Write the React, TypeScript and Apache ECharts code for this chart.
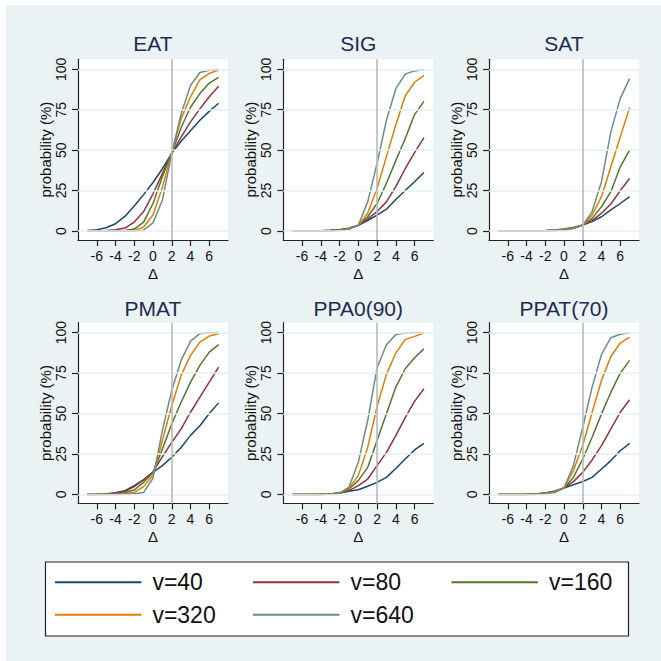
import React, { useEffect, useRef } from "react";
import * as echarts from "echarts";

// x values (Δ) shared by every curve
const X_VALUES = [-7, -6, -5, -4, -3, -2, -1, 0, 1, 2, 3, 4, 5, 6, 7];
const SERIES_NAMES = ["v=40", "v=80", "v=160", "v=320", "v=640"];
const SERIES_COLORS = ["#1a476f", "#90353b", "#55752f", "#e37e00", "#6e8e84"];
const PANEL_TITLES = ["EAT", "SIG", "SAT", "PMAT", "PPA0(90)", "PPAT(70)"];
const X_TICKS = [-6, -4, -2, 0, 2, 4, 6];
const Y_TICKS = [0, 25, 50, 75, 100];
const REF_X = 2;

// probability (%) per panel, rows: v=40, v=80, v=160, v=320, v=640
const EAT = [
  [0.3, 0.8, 2, 4.5, 9, 15.5, 22.5, 30, 38.5, 48, 55.5, 62, 68.5, 74, 79],
  [0, 0, 0.3, 0.7, 1.8, 5.5, 12, 23, 35.5, 48, 58, 67.5, 75.5, 83, 89.5],
  [0, 0, 0, 0, 0.3, 1.2, 5.5, 17, 33.5, 48, 64, 76.5, 85, 91.5, 95],
  [0, 0, 0, 0, 0, 0.2, 2.5, 10, 27, 48, 69.5, 83, 93.5, 97.5, 99.4],
  [0, 0, 0, 0, 0, 0, 0.5, 5, 19, 48, 72.5, 90, 98, 99.4, 99.8],
];
const SIG = [
  [0, 0, 0, 0.2, 0.4, 0.8, 1.7, 3.5, 6.5, 9.8, 13.5, 19.5, 25, 30.5, 36.2],
  [0, 0, 0, 0.2, 0.4, 0.7, 1.6, 3.5, 7.5, 12, 18, 27.5, 38.5, 48.5, 57.8],
  [0, 0, 0, 0, 0.2, 0.5, 1.4, 3.5, 8.8, 17, 29.5, 43.5, 57, 72, 80.2],
  [0, 0, 0, 0, 0.1, 0.4, 1.3, 3.5, 11, 26.3, 46, 65.5, 83.5, 92, 96.3],
  [0, 0, 0, 0, 0, 0.3, 1.2, 3.5, 18, 41.8, 68.5, 88, 97, 99, 99.8],
];
const SAT = [
  [0, 0, 0, 0, 0.1, 0.3, 0.6, 1.2, 2.2, 3.8, 5.8, 8.8, 13, 17, 21.2],
  [0, 0, 0, 0, 0.1, 0.2, 0.5, 1, 2, 3.5, 6.4, 11, 16.7, 25, 32.5],
  [0, 0, 0, 0, 0, 0.1, 0.4, 0.9, 1.8, 3.5, 7.8, 15, 24.3, 39.7, 50],
  [0, 0, 0, 0, 0, 0.1, 0.3, 0.8, 1.7, 3.5, 9.9, 21.2, 39.7, 58.2, 76.3],
  [0, 0, 0, 0, 0, 0, 0.2, 0.6, 1.5, 3.5, 12, 30.5, 61.3, 82, 94.2],
];
const PMAT = [
  [0, 0.1, 0.3, 1, 2.3, 5.4, 9.1, 13.6, 17.8, 23, 29, 36.5, 42.5, 50, 56.6],
  [0, 0, 0.2, 0.7, 1.8, 4.8, 8.9, 14, 23.3, 32.2, 40.5, 50.8, 60.1, 69.4, 78.7],
  [0, 0, 0, 0.3, 1, 2.7, 7.4, 13.5, 28, 43.6, 57, 69.4, 79.8, 88, 92.6],
  [0, 0, 0, 0.1, 0.4, 1.2, 4.8, 12, 33.3, 55, 73.6, 86, 94.2, 97.9, 99.4],
  [0, 0, 0, 0, 0.1, 0.4, 1.2, 10, 39.5, 64.3, 82.9, 94.8, 99.4, 100, 100],
];
const PPA0 = [
  [0, 0, 0, 0.1, 0.3, 0.8, 1.9, 2.9, 5, 7.4, 10.5, 16, 21.9, 27.5, 31.6],
  [0, 0, 0, 0.1, 0.3, 0.8, 2.3, 5.4, 9.5, 17.8, 26, 36.4, 47.5, 57.5, 65.3],
  [0, 0, 0, 0, 0.2, 0.8, 3.3, 8.5, 16.7, 33.3, 49.8, 66.3, 77.7, 84.5, 90],
  [0, 0, 0, 0, 0.2, 0.8, 3.9, 11.6, 29, 54.3, 74.2, 87.4, 95.7, 97.7, 99.8],
  [0, 0, 0, 0, 0.2, 0.8, 4.5, 19.8, 45.7, 78.3, 92.6, 98.8, 99.8, 100, 100],
];
const PPAT = [
  [0, 0, 0, 0.1, 0.3, 0.8, 1.9, 4, 6, 8, 10.5, 15.7, 20.9, 27, 31.6],
  [0, 0, 0, 0.1, 0.3, 0.8, 1.9, 4, 7.9, 13.6, 21.3, 30.2, 40.5, 50.8, 58.5],
  [0, 0, 0, 0, 0.2, 0.7, 1.6, 4, 10.5, 21.9, 35.3, 49.8, 63.2, 75, 82.9],
  [0, 0, 0, 0, 0.1, 0.6, 1.5, 4, 14.7, 30.2, 50.8, 70.5, 85.3, 93.6, 97.3],
  [0, 0, 0, 0, 0.1, 0.5, 1.2, 4, 17.8, 41.5, 66.3, 86.6, 96.9, 99, 100],
];
const PANELS = [EAT, SIG, SAT, PMAT, PPA0, PPAT];
const LEGEND_COLUMNS = [["v=40", "v=320"], ["v=80", "v=640"], ["v=160"]];

const FONT = "'Liberation Sans', Arial, Helvetica, sans-serif";

export default function App() {
  const ref = useRef<HTMLDivElement>(null);

  useEffect(() => {
    if (!ref.current) return;
    const chart = echarts.init(ref.current, undefined, { renderer: "svg" });

    const colLeft = [78, 283.3, 489];
    const rowTop = [59.3, 322.7];
    const gw = 150;
    const gh = 180.7;

    const grids: any[] = [];
    const xAxes: any[] = [];
    const yAxes: any[] = [];
    const series: any[] = [];
    const titles: any[] = [];
    const axisColor = "#222";

    PANELS.forEach((panel, i) => {
      const c = i % 3;
      const r = Math.floor(i / 3);
      grids.push({
        left: colLeft[c],
        top: rowTop[r],
        width: gw,
        height: gh,
        show: true,
        backgroundColor: "#ffffff",
        borderWidth: 0,
      });
      titles.push({
        text: PANEL_TITLES[i],
        left: colLeft[c] + gw / 2,
        top: r === 0 ? 32.5 : 297.5,
        textAlign: "center",
        padding: 0,
        textStyle: { fontSize: 21, fontWeight: "normal", color: "#1c2b53", fontFamily: FONT },
      });
      xAxes.push({
        gridIndex: i,
        type: "value",
        min: -8,
        max: 8,
        interval: 2,
        axisLine: { show: true, onZero: false, lineStyle: { color: axisColor, width: 1.2 } },
        axisTick: { show: true, customValues: X_TICKS, length: 6, lineStyle: { color: axisColor, width: 1.2 } },
        axisLabel: { customValues: X_TICKS, fontSize: 14, color: "#111", margin: 9, fontFamily: FONT },
        splitLine: { show: false },
        name: "Δ",
        nameLocation: "middle",
        nameGap: 26,
        nameTextStyle: { fontSize: 15, color: "#111", fontFamily: FONT },
      });
      yAxes.push({
        gridIndex: i,
        type: "value",
        min: -5.57,
        max: 106.18,
        axisLine: { show: true, onZero: false, lineStyle: { color: axisColor, width: 1.2 } },
        axisTick: { show: true, customValues: Y_TICKS, length: 6, lineStyle: { color: axisColor, width: 1.2 } },
        axisLabel: { customValues: Y_TICKS, fontSize: 14, color: "#111", margin: 10, rotate: 90, fontFamily: FONT },
        splitLine: { show: false },
        name: "probability (%)",
        nameLocation: "middle",
        nameGap: 24,
        nameTextStyle: { fontSize: 15, color: "#111", fontFamily: FONT },
      });
      series.push({
        type: "line",
        data: [],
        xAxisIndex: i,
        yAxisIndex: i,
        z: 1,
        silent: true,
        markLine: {
          silent: true,
          symbol: ["none", "none"],
          label: { show: false },
          animation: false,
          data: [
            ...Y_TICKS.map((v) => ({ yAxis: v, lineStyle: { color: "#e6eff1", width: 1.6, type: "solid" } })),
            { xAxis: REF_X, lineStyle: { color: "#b9b9b9", width: 1.6, type: "solid" } },
          ],
        },
      });
      panel.forEach((vals, k) => {
        series.push({
          type: "line",
          name: SERIES_NAMES[k],
          data: X_VALUES.map((x, j) => [x, vals[j]]),
          xAxisIndex: i,
          yAxisIndex: i,
          showSymbol: false,
          symbol: "none",
          silent: true,
          z: 3,
          lineStyle: { color: SERIES_COLORS[k], width: 1.5 },
          itemStyle: { color: SERIES_COLORS[k] },
        });
      });
    });

    const legendLefts = [54.9, 253, 451.5];
    const legends = LEGEND_COLUMNS.map((names, c) => ({
      orient: "vertical",
      left: legendLefts[c],
      top: 570.3,
      data: names,
      icon: "rect",
      itemWidth: 86.5,
      itemHeight: 2,
      itemGap: 8.4,
      padding: 0,
      selectedMode: false,
      textStyle: { fontSize: 23, lineHeight: 24, color: "#111", fontFamily: FONT, padding: [0, 0, 0, 6] },
    }));

    chart.setOption({
      animation: false,
      title: titles,
      grid: grids,
      xAxis: xAxes,
      yAxis: yAxes,
      series,
      legend: legends,
      graphic: [
        {
          type: "rect",
          z: 0,
          shape: { x: 45.5, y: 562, width: 583, height: 74 },
          style: { fill: "#ffffff", stroke: "#222", lineWidth: 1.2 },
        },
      ],
    });

    return () => chart.dispose();
  }, []);

  return (
    <div style={{ position: "absolute", left: 0, top: 0, width: 661, height: 661, background: "#ffffff" }}>
      <div style={{ position: "absolute", left: 6, top: 5, width: 655, height: 656, background: "#EAF2F3" }} />
      <div ref={ref} style={{ position: "absolute", left: 0, top: 0, width: 661, height: 661 }} />
    </div>
  );
}
